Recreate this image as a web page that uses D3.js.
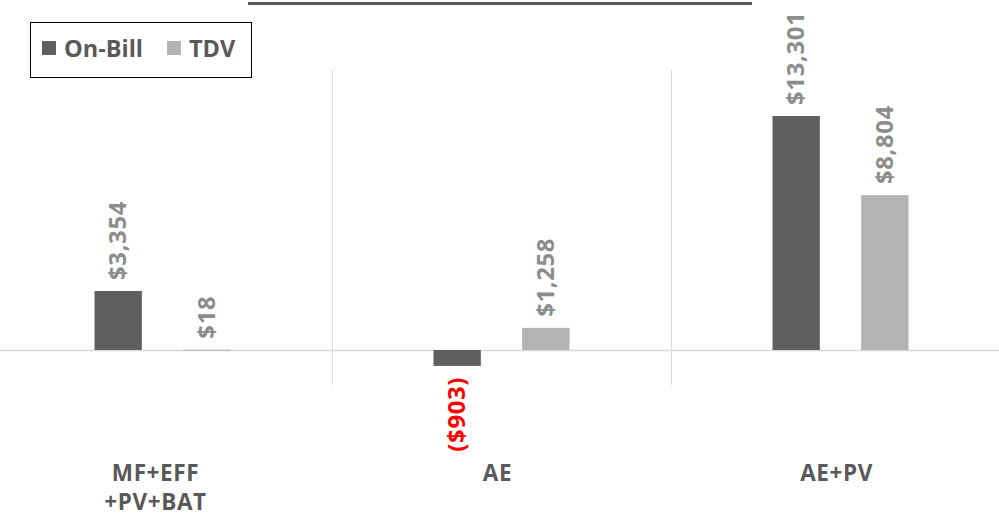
<!DOCTYPE html>
<html>
<head>
<meta charset="utf-8">
<script src="https://cdn.jsdelivr.net/npm/d3@7"></script>
<style>
  html, body { margin: 0; padding: 0; background: #fff; }
  svg { display: block; }
</style>
</head>
<body>
<svg id="chart" width="999" height="516"></svg>
<script>
// Cost-effectiveness by package: on-bill savings vs TDV
const categories = ["MF+EFF\n+PV+BAT", "AE", "AE+PV"];
const seriesNames = ["On-Bill", "TDV"];
const onBill = [3354, -903, 13301];
const tdv = [18, 1258, 8804];
const seriesColors = ["#5f5f5f", "#b3b3b3"];

const W = 999, H = 516;
const svg = d3.select("#chart");
const font = "'Open Sans', 'Liberation Sans', sans-serif";

const rows = categories.map((c, i) => ({ cat: c, values: [onBill[i], tdv[i]] }));

const x = d3.scaleBand().domain(categories).range([-7, 1010]);
const x1 = d3.scaleBand().domain(seriesNames).range([x.bandwidth() / 2 - 68, x.bandwidth() / 2 + 68]).paddingInner(0.466);
const y = d3.scaleLinear().domain([0, 13301]).range([350, 116]);

// Top rule
svg.append("line")
  .attr("x1", 248).attr("x2", 752).attr("y1", 3.5).attr("y2", 3.5)
  .attr("stroke", "#595959").attr("stroke-width", 3);

// Category separators
categories.slice(1).forEach(c => {
  svg.append("line")
    .attr("x1", x(c) + 0.5).attr("x2", x(c) + 0.5)
    .attr("y1", 70).attr("y2", 385)
    .attr("stroke", "#d9d9d9").attr("stroke-width", 1);
});

// Zero line
svg.append("line")
  .attr("x1", 0).attr("x2", W).attr("y1", y(0) + 0.5).attr("y2", y(0) + 0.5)
  .attr("stroke", "#d9d9d9").attr("stroke-width", 1.5);

const groups = svg.selectAll("g.grp").data(rows).join("g")
  .attr("class", "grp")
  .attr("transform", d => `translate(${x(d.cat)},0)`);

const bars = groups.selectAll("g.bar")
  .data(d => d.values.map((v, k) => ({ v, s: seriesNames[k], k })))
  .join("g").attr("class", "bar");

bars.append("rect")
  .attr("x", d => x1(d.s))
  .attr("width", x1.bandwidth())
  .attr("y", d => Math.min(y(d.v), y(0)))
  .attr("height", d => Math.max(1, Math.abs(y(d.v) - y(0))))
  .attr("fill", d => seriesColors[d.k]);

const fmt = v => v < 0 ? `($${d3.format(",")(-v)})` : `$${d3.format(",")(v)}`;

// Value labels, rotated to read bottom-to-top
bars.append("text")
  .attr("transform", d => {
    const cx = x1(d.s) + x1.bandwidth() / 2;
    const yy = d.v >= 0 ? y(d.v) - 11 : y(d.v) + 11;
    return `translate(${cx + 8},${yy}) rotate(-90)`;
  })
  .attr("text-anchor", d => d.v >= 0 ? "start" : "end")
  .attr("font-family", font)
  .attr("font-weight", "bold")
  .attr("font-size", 24)
  .attr("letter-spacing", 0.6)
  .attr("fill", d => d.v < 0 ? "#ff0000" : "#8c8c8c")
  .text(d => fmt(d.v));

// Category labels
const catLabels = svg.selectAll("text.cat").data(categories).join("text")
  .attr("class", "cat")
  .attr("font-family", font)
  .attr("font-weight", "bold")
  .attr("font-size", 22.5)
  .attr("letter-spacing", 0.6)
  .attr("fill", "#595959")
  .attr("text-anchor", "middle");
catLabels.each(function(c, i) {
  const lines = c.split("\n");
  const cx = x(c) + x.bandwidth() / 2 + (lines.length > 1 ? -7 : -4);
  d3.select(this).selectAll("tspan").data(lines).join("tspan")
    .attr("x", cx)
    .attr("y", (l, j) => 481 + j * 29)
    .text(l => l);
});

// Legend
const lg = svg.append("g");
lg.append("rect").attr("x", 30.5).attr("y", 22.5).attr("width", 221).attr("height", 55)
  .attr("fill", "#fff").attr("stroke", "#000").attr("stroke-width", 1);
const legendX = [42, 167];
seriesNames.forEach((s, k) => {
  lg.append("rect").attr("x", legendX[k]).attr("y", 41).attr("width", 14).attr("height", 14)
    .attr("fill", seriesColors[k]);
  lg.append("text").attr("x", legendX[k] + 22).attr("y", 57)
    .attr("font-family", font).attr("font-weight", "bold").attr("font-size", 23.5)
    .attr("fill", "#595959").text(s);
});
</script>
</body>
</html>
